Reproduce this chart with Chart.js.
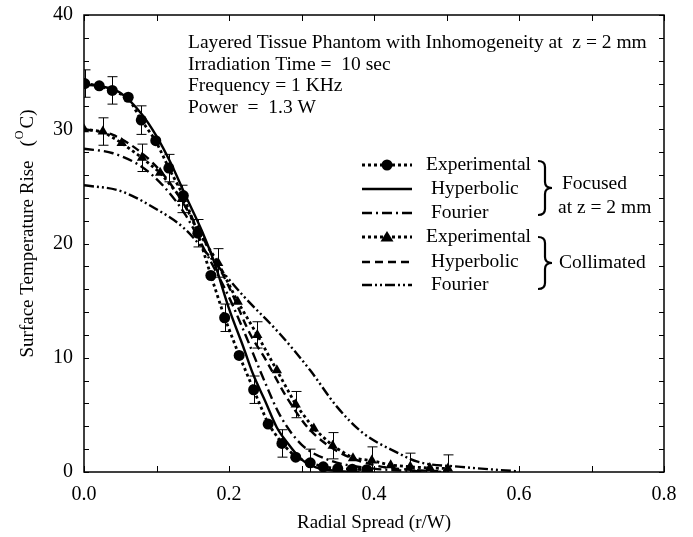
<!DOCTYPE html>
<html>
<head>
<meta charset="utf-8">
<script src="https://cdn.jsdelivr.net/npm/chart.js@4/dist/chart.umd.min.js"></script>
<style>
  html, body { margin: 0; padding: 0; background: #fff; }
  canvas { display: block; }
</style>
</head>
<body>
<canvas id="chart" width="693" height="537"></canvas>
<script>
// focused beam, experimental (circles)
const focusedExpX = [0.001, 0.021, 0.039, 0.061, 0.079, 0.099, 0.117, 0.137, 0.157, 0.175, 0.194, 0.214, 0.234, 0.254, 0.273, 0.292, 0.312, 0.330, 0.350, 0.370, 0.390];
const focusedExpY = [34.0, 33.8, 33.4, 32.8, 30.8, 29.0, 26.6, 24.2, 20.9, 17.2, 13.5, 10.2, 7.2, 4.2, 2.5, 1.3, 0.8, 0.45, 0.3, 0.25, 0.2];
const focusedExpErr = [1.2, null, 1.2, null, 1.25, null, 1.2, null, 1.2, null, 1.2, null, 1.2, null, 1.2, null, 1.2, null, null, null, null];

// collimated beam, experimental (triangles)
const collExpX = [0.0, 0.026, 0.052, 0.080, 0.105, 0.135, 0.157, 0.185, 0.212, 0.239, 0.266, 0.292, 0.317, 0.343, 0.371, 0.397, 0.423, 0.450, 0.477, 0.502];
const collExpY = [30.0, 29.8, 28.8, 27.5, 26.2, 23.9, 21.1, 18.3, 14.9, 12.0, 8.9, 5.9, 3.8, 2.3, 1.2, 1.0, 0.6, 0.45, 0.35, 0.3];
const collExpErr = [null, 1.2, null, 1.2, null, 1.2, null, 1.25, null, 1.15, null, 1.15, null, 1.15, null, 1.2, null, 1.2, null, 1.2];

// model curves
const focusedHypX = [0, 0.02, 0.05, 0.08, 0.10, 0.12, 0.14, 0.164, 0.18, 0.20, 0.22, 0.233, 0.25, 0.266, 0.28, 0.30, 0.32, 0.35, 0.38];
const focusedHypY = [33.9, 33.8, 33.2, 31.3, 29.4, 27.0, 24.2, 20.9, 18.3, 14.3, 10.9, 8.6, 6.2, 3.9, 2.6, 1.1, 0.4, 0.1, 0];

const focusedFourX = [0, 0.04, 0.08, 0.11, 0.14, 0.17, 0.20, 0.222, 0.25, 0.27, 0.30, 0.34, 0.40, 0.46, 0.50];
const focusedFourY = [28.3, 27.9, 26.7, 25.0, 22.5, 19.0, 15.3, 12.1, 7.8, 5.0, 2.4, 1.0, 0.3, 0.08, 0];

const collHypX = [0, 0.04, 0.08, 0.11, 0.14, 0.17, 0.20, 0.229, 0.25, 0.28, 0.31, 0.35, 0.40, 0.45, 0.50];
const collHypY = [30.0, 29.5, 27.9, 26.0, 23.2, 19.8, 16.2, 12.1, 9.9, 6.5, 3.8, 1.8, 0.6, 0.2, 0.05];

const collFourX = [0, 0.05, 0.10, 0.137, 0.17, 0.22, 0.27, 0.312, 0.349, 0.385, 0.432, 0.46, 0.52, 0.60];
const collFourY = [25.1, 24.6, 23.0, 21.4, 19.1, 15.4, 12.1, 8.9, 5.7, 3.4, 1.7, 0.9, 0.45, 0.05];

const xTickLabels = [0, 0.2, 0.4, 0.6, 0.8];
const yTickLabels = [0, 10, 20, 30, 40];
const xMinorStep = 0.1;
const yMinorStep = 2;

const infoLines = [
    'Layered Tissue Phantom with Inhomogeneity at  z = 2 mm',
    'Irradiation Time =  10 sec',
    'Frequency = 1 KHz',
    'Power  =  1.3 W',
];

const SERIF = '"Liberation Serif", "Times New Roman", serif';

const DOT = [3, 3];
const DASH_DOT = [10, 4, 2, 4];
const DASHED = [8, 5];
const DASH_DOT_DOT = [10, 3, 2, 3, 2, 3];

function zip(xs, ys) {
    return xs.map((x, i) => ({ x, y: ys[i] }));
}

function lineSet(label, xs, ys, dash) {
    return {
        label,
        data: zip(xs, ys),
        showLine: true,
        borderColor: '#000',
        borderWidth: 2.4,
        borderDash: dash,
        pointRadius: 0,
        cubicInterpolationMode: 'monotone',
        fill: false,
    };
}

const datasets = [
    lineSet('Fourier (collimated)', collFourX, collFourY, DASH_DOT_DOT),
    lineSet('Hyperbolic (collimated)', collHypX, collHypY, DASHED),
    lineSet('Fourier (focused)', focusedFourX, focusedFourY, DASH_DOT),
    lineSet('Hyperbolic (focused)', focusedHypX, focusedHypY, []),
    {
        label: 'Experimental (collimated)',
        data: zip(collExpX, collExpY),
        errors: collExpErr,
        showLine: true,
        borderColor: '#000',
        borderWidth: 2.8,
        borderDash: DOT,
        pointStyle: 'triangle',
        pointRadius: 6,
        pointBackgroundColor: '#000',
        pointBorderColor: '#000',
        pointBorderWidth: 0,
    },
    {
        label: 'Experimental (focused)',
        data: zip(focusedExpX, focusedExpY),
        errors: focusedExpErr,
        showLine: true,
        borderColor: '#000',
        borderWidth: 2.8,
        borderDash: DOT,
        pointStyle: 'circle',
        pointRadius: 5.5,
        pointBackgroundColor: '#000',
        pointBorderColor: '#000',
        pointBorderWidth: 0,
    },
];

function drawBrace(ctx, x, top, bottom) {
    const w = 14;
    const mid = (top + bottom) / 2;
    const r = 6;
    ctx.beginPath();
    ctx.moveTo(x, top);
    ctx.quadraticCurveTo(x + w / 2, top, x + w / 2, top + r);
    ctx.lineTo(x + w / 2, mid - r);
    ctx.quadraticCurveTo(x + w / 2, mid, x + w, mid);
    ctx.quadraticCurveTo(x + w / 2, mid, x + w / 2, mid + r);
    ctx.lineTo(x + w / 2, bottom - r);
    ctx.quadraticCurveTo(x + w / 2, bottom, x, bottom);
    ctx.lineWidth = 2.2;
    ctx.strokeStyle = '#000';
    ctx.stroke();
}

const errorBars = {
    id: 'errorBars',
    afterDatasetsDraw(chart) {
        const { ctx, scales: { x, y }, chartArea } = chart;
        ctx.save();
        ctx.beginPath();
        ctx.rect(chartArea.left, chartArea.top, chartArea.width, chartArea.height);
        ctx.clip();
        ctx.strokeStyle = '#000';
        ctx.lineWidth = 1;
        chart.data.datasets.forEach((ds) => {
            if (!ds.errors) {
                return;
            }
            ds.data.forEach((pt, i) => {
                const e = ds.errors[i];
                if (e == null) {
                    return;
                }
                const px = Math.round(x.getPixelForValue(pt.x)) + 0.5;
                const y1 = y.getPixelForValue(pt.y + e);
                const y2 = y.getPixelForValue(pt.y - e);
                ctx.beginPath();
                ctx.moveTo(px, y1);
                ctx.lineTo(px, y2);
                ctx.moveTo(px - 5, y1);
                ctx.lineTo(px + 5, y1);
                ctx.moveTo(px - 5, y2);
                ctx.lineTo(px + 5, y2);
                ctx.stroke();
            });
        });
        ctx.restore();
    },
};

const decor = {
    id: 'decor',
    afterDraw(chart) {
        const { ctx, scales: { x, y }, chartArea: a } = chart;
        ctx.save();

        // frame and inward ticks
        ctx.strokeStyle = '#000';
        ctx.lineWidth = 1.5;
        ctx.strokeRect(a.left, a.top, a.right - a.left, a.bottom - a.top);
        ctx.lineWidth = 1;
        ctx.beginPath();
        for (let v = 0; v <= 0.8 + 1e-9; v += xMinorStep) {
            const px = Math.round(x.getPixelForValue(v)) + 0.5;
            ctx.moveTo(px, a.bottom);
            ctx.lineTo(px, a.bottom - 6);
            ctx.moveTo(px, a.top);
            ctx.lineTo(px, a.top + 6);
        }
        for (let v = 0; v <= 40; v += yMinorStep) {
            const py = Math.round(y.getPixelForValue(v)) + 0.5;
            ctx.moveTo(a.left, py);
            ctx.lineTo(a.left + 5, py);
            ctx.moveTo(a.right, py);
            ctx.lineTo(a.right - 5, py);
        }
        ctx.stroke();

        // info text
        ctx.fillStyle = '#000';
        ctx.font = '19.5px ' + SERIF;
        ctx.textBaseline = 'middle';
        ctx.textAlign = 'left';
        infoLines.forEach((t, i) => ctx.fillText(t, 188, 43 + i * 21.5));

        // legend
        ctx.font = '19.5px ' + SERIF;
        const rows = [
            { label: 'Experimental', dash: DOT, marker: 'circle', y: 165, tx: 426 },
            { label: 'Hyperbolic', dash: [], y: 189, tx: 431 },
            { label: 'Fourier', dash: DASH_DOT, y: 213, tx: 431 },
            { label: 'Experimental', dash: DOT, marker: 'triangle', y: 237, tx: 426 },
            { label: 'Hyperbolic', dash: DASHED, y: 262, tx: 431 },
            { label: 'Fourier', dash: DASH_DOT_DOT, y: 285, tx: 431 },
        ];
        rows.forEach((r) => {
            ctx.beginPath();
            ctx.setLineDash(r.dash);
            ctx.lineWidth = r.marker ? 2.8 : 2.4;
            ctx.moveTo(362, r.y);
            ctx.lineTo(412, r.y);
            ctx.stroke();
            ctx.setLineDash([]);
            if (r.marker === 'circle') {
                ctx.beginPath();
                ctx.arc(387, r.y, 5.5, 0, Math.PI * 2);
                ctx.fill();
            } else if (r.marker === 'triangle') {
                ctx.beginPath();
                ctx.moveTo(387, r.y - 6);
                ctx.lineTo(393.5, r.y + 4.5);
                ctx.lineTo(380.5, r.y + 4.5);
                ctx.closePath();
                ctx.fill();
            }
            ctx.fillText(r.label, r.tx, r.y);
        });
        drawBrace(ctx, 538, 161, 215);
        drawBrace(ctx, 538, 237, 289);
        ctx.fillText('Focused', 562, 184);
        ctx.fillText('at z = 2 mm', 558, 208);
        ctx.fillText('Collimated', 559, 263);

        // y-axis title with superscript
        ctx.translate(28, 234);
        ctx.rotate(-Math.PI / 2);
        const main = 'Surface Temperature Rise';
        const open = '(';
        const sup = 'O';
        const tail = 'C)';
        const gap = 14;
        const f = '19px ' + SERIF;
        const fs = '12px ' + SERIF;
        ctx.font = f;
        const w1 = ctx.measureText(main).width;
        const w0 = ctx.measureText(open).width;
        const w3 = ctx.measureText(tail).width;
        ctx.font = fs;
        const w2 = ctx.measureText(sup).width + 2;
        let cx = -(w1 + gap + w0 + w2 + w3) / 2;
        ctx.font = f;
        ctx.fillText(main, cx, 0);
        cx += w1 + gap;
        ctx.fillText(open, cx, 0);
        cx += w0 + 1;
        ctx.font = fs;
        ctx.fillText(sup, cx, -8);
        cx += w2;
        ctx.font = f;
        ctx.fillText(tail, cx, 0);

        ctx.restore();
    },
};

new Chart(document.getElementById('chart'), {
    type: 'scatter',
    data: { datasets },
    options: {
        responsive: false,
        animation: false,
        layout: { padding: { top: 14, right: 29, left: 0, bottom: 0 } },
        plugins: {
            legend: { display: false },
            tooltip: { enabled: false },
        },
        scales: {
            x: {
                type: 'linear',
                min: 0,
                max: 0.8,
                afterFit(scale) { scale.height = 65; },
                afterBuildTicks(scale) { scale.ticks = xTickLabels.map((v) => ({ value: v })); },
                grid: { display: false },
                border: { display: false },
                ticks: {
                    color: '#000',
                    padding: 3,
                    maxRotation: 0,
                    autoSkip: false,
                    font: { family: SERIF, size: 20 },
                    callback: (v) => Number(v).toFixed(1),
                },
                title: {
                    display: true,
                    text: 'Radial Spread (r/W)',
                    color: '#000',
                    font: { family: SERIF, size: 19 },
                    padding: { top: 4, bottom: 3 },
                },
            },
            y: {
                min: 0,
                max: 40,
                afterFit(scale) { scale.width = 84; },
                afterBuildTicks(scale) { scale.ticks = yTickLabels.map((v) => ({ value: v })); },
                grid: { display: false },
                border: { display: false },
                ticks: {
                    color: '#000',
                    padding: 3,
                    font: { family: SERIF, size: 20 },
                },
            },
        },
    },
    plugins: [errorBars, decor],
});
</script>
</body>
</html>
